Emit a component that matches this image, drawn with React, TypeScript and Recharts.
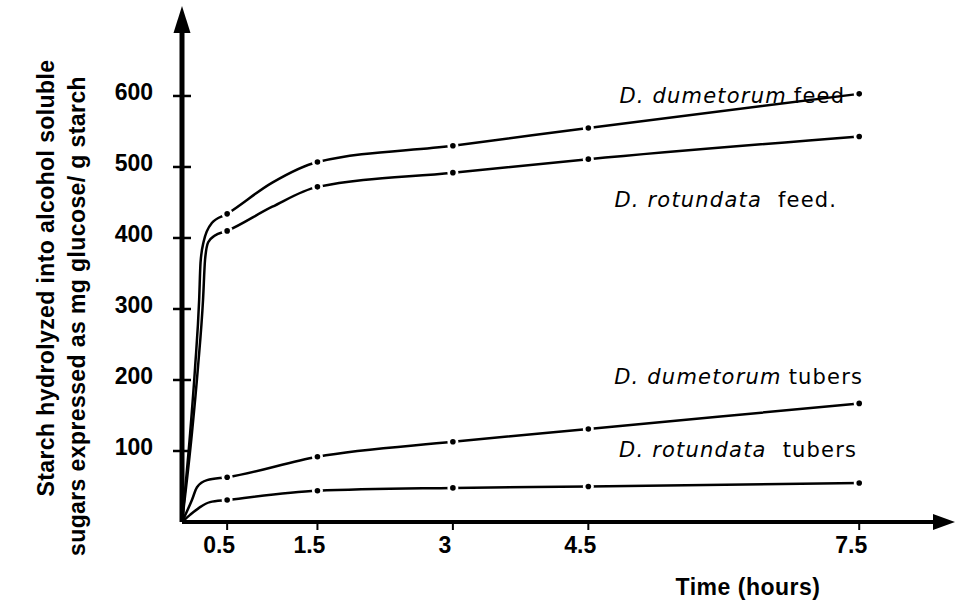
import React from 'react';
import { LineChart, Line, XAxis, YAxis, ReferenceDot } from 'recharts';

// ---- data (time in hours, value in mg glucose / g starch) ----
const sampleTimes = [0.5, 1.5, 3, 4.5, 7.5];
const xTicks = [0.5, 1.5, 3, 4.5, 7.5];
const yTicks = [100, 200, 300, 400, 500, 600];

const dumFeedT = [0, 0.09, 0.145, 0.19, 0.205, 0.24, 0.33, 0.5, 1.0, 1.5, 3, 4.5, 7.5];
const dumFeedV = [0, 125, 218, 313, 365, 395, 421, 434, 478, 507, 530, 555, 603];

const rotFeedT = [0, 0.11, 0.177, 0.233, 0.255, 0.29, 0.36, 0.5, 1.0, 1.5, 3, 4.5, 7.5];
const rotFeedV = [0, 125, 218, 313, 369, 394, 403, 410, 444, 472, 492, 511, 543];

const dumTubT = [0, 0.11, 0.166, 0.277, 0.5, 1.5, 3, 4.5, 7.5];
const dumTubV = [0, 31, 49, 59, 63, 92, 113, 131, 167];

const rotTubT = [0, 0.089, 0.2, 0.31, 0.5, 1.5, 3, 4.5, 7.5];
const rotTubV = [0, 10, 21, 28, 31, 44, 48, 50, 55];

const X_MAX = 8.45;
const Y_MAX = 707;

const rows = (T: number[], V: number[]) => T.map((t, i) => ({ t, v: V[i] }));

const dumFeed = rows(dumFeedT, dumFeedV);
const rotFeed = rows(rotFeedT, rotFeedV);
const dumTub = rows(dumTubT, dumTubV);
const rotTub = rows(rotTubT, rotTubV);

const BOLD = "'Liberation Sans', Arial, Helvetica, sans-serif";
const LABEL_FONT = "'DejaVu Sans', 'Liberation Sans', sans-serif";

const MarkerDot = (props: any) => {
  const { cx, cy, payload, index } = props;
  if (!sampleTimes.includes(payload.t)) return <g key={`n${index}`} />;
  return (
    <g key={`d${index}`}>
      <circle cx={cx} cy={cy} r={5.5} fill="#fff" />
      <circle cx={cx} cy={cy} r={2.8} fill="#000" />
    </g>
  );
};

const YTick = (props: any) => {
  const { x, y, payload } = props;
  return (
    <g>
      <line x1={x - 9} x2={x + 9} y1={y} y2={y} stroke="#000" strokeWidth={2.5} />
      <text x={x - 29} y={y + 4} textAnchor="end" fontFamily={BOLD} fontWeight="bold" fontSize={23} fill="#000">
        {payload.value}
      </text>
    </g>
  );
};

const XTick = (props: any) => {
  const { x, y, payload } = props;
  return (
    <g>
      <line x1={x} x2={x} y1={y} y2={y + 8} stroke="#000" strokeWidth={2} />
      <text x={x - 8} y={y + 31} textAnchor="middle" fontFamily={BOLD} fontWeight="bold" fontSize={23} fill="#000">
        {payload.value}
      </text>
    </g>
  );
};

const RightArrow = (p: any) => (
  <polygon points={`${p.cx + 10},${p.cy} ${p.cx - 12},${p.cy - 8} ${p.cx - 12},${p.cy + 8}`} fill="#000" />
);
const UpArrow = (p: any) => (
  <polygon points={`${p.cx},${p.cy - 14} ${p.cx - 8.5},${p.cy + 13} ${p.cx + 8.5},${p.cy + 13}`} fill="#000" />
);

const SeriesLabel = (species: string, kind: string, dx: number, dy: number, gap: number) => (p: any) => (
  <text
    x={p.cx + dx}
    y={p.cy + dy}
    textAnchor="end"
    fontFamily={LABEL_FONT}
    fontSize={21}
    letterSpacing={1.2}
    fill="#000"
  >
    <tspan fontStyle="italic">{species}</tspan>
    <tspan dx={gap}>{kind}</tspan>
  </text>
);

const YTitle = () => (
  <g fontFamily={BOLD} fontWeight="bold" fontSize={23} fill="#000">
    <text transform="translate(46, 278) rotate(-90)" textAnchor="middle" dominantBaseline="central" letterSpacing={0.4}>
      Starch hydrolyzed into alcohol soluble
    </text>
    <text transform="translate(77, 316) rotate(-90)" textAnchor="middle" dominantBaseline="central" letterSpacing={0.4}>
      sugars expressed as mg glucose/ g starch
    </text>
  </g>
);

const XTitle = () => (
  <text x={748} y={595} textAnchor="middle" fontFamily={BOLD} fontWeight="bold" fontSize={23} letterSpacing={0.5} fill="#000">
    Time (hours)
  </text>
);

const last = (V: number[]) => V[V.length - 1];

export default function App() {
  return (
    <div style={{ position: 'absolute', left: 0, top: 0, width: 960, height: 602, background: '#fff' }}>
      <LineChart width={960} height={602} margin={{ top: 20, right: 15, bottom: 0, left: 0 }}>
        <XAxis
          type="number"
          dataKey="t"
          domain={[0, X_MAX]}
          ticks={xTicks}
          height={80}
          axisLine={{ stroke: '#000', strokeWidth: 4 }}
          tickLine={false}
          tickSize={0}
          tickMargin={0}
          tick={<XTick />}
          label={<XTitle />}
          allowDataOverflow
        />
        <YAxis
          type="number"
          domain={[0, Y_MAX]}
          ticks={yTicks}
          width={182}
          axisLine={{ stroke: '#000', strokeWidth: 5 }}
          tickLine={false}
          tickSize={0}
          tickMargin={0}
          tick={<YTick />}
          label={<YTitle />}
          allowDataOverflow
        />
        <Line data={dumFeed} dataKey="v" type="monotone" stroke="#000" strokeWidth={2.5} dot={MarkerDot} activeDot={false} isAnimationActive={false} />
        <Line data={rotFeed} dataKey="v" type="monotone" stroke="#000" strokeWidth={2.5} dot={MarkerDot} activeDot={false} isAnimationActive={false} />
        <Line data={dumTub} dataKey="v" type="monotone" stroke="#000" strokeWidth={2.5} dot={MarkerDot} activeDot={false} isAnimationActive={false} />
        <Line data={rotTub} dataKey="v" type="monotone" stroke="#000" strokeWidth={2.5} dot={MarkerDot} activeDot={false} isAnimationActive={false} />
        <ReferenceDot x={X_MAX} y={0} r={0} ifOverflow="visible" shape={RightArrow} />
        <ReferenceDot x={0} y={Y_MAX} r={0} ifOverflow="visible" shape={UpArrow} />
        <ReferenceDot x={7.5} y={last(dumFeedV)} r={0} ifOverflow="visible" shape={SeriesLabel('D. dumetorum', 'feed', -14, 9, 7)} />
        <ReferenceDot x={7.5} y={last(rotFeedV)} r={0} ifOverflow="visible" shape={SeriesLabel('D. rotundata', 'feed.', -22, 71, 16)} />
        <ReferenceDot x={7.5} y={last(dumTubV)} r={0} ifOverflow="visible" shape={SeriesLabel('D. dumetorum', 'tubers', 4, -19, 7)} />
        <ReferenceDot x={7.5} y={last(rotTubV)} r={0} ifOverflow="visible" shape={SeriesLabel('D. rotundata', 'tubers', -2, -26, 16)} />
      </LineChart>
    </div>
  );
}
